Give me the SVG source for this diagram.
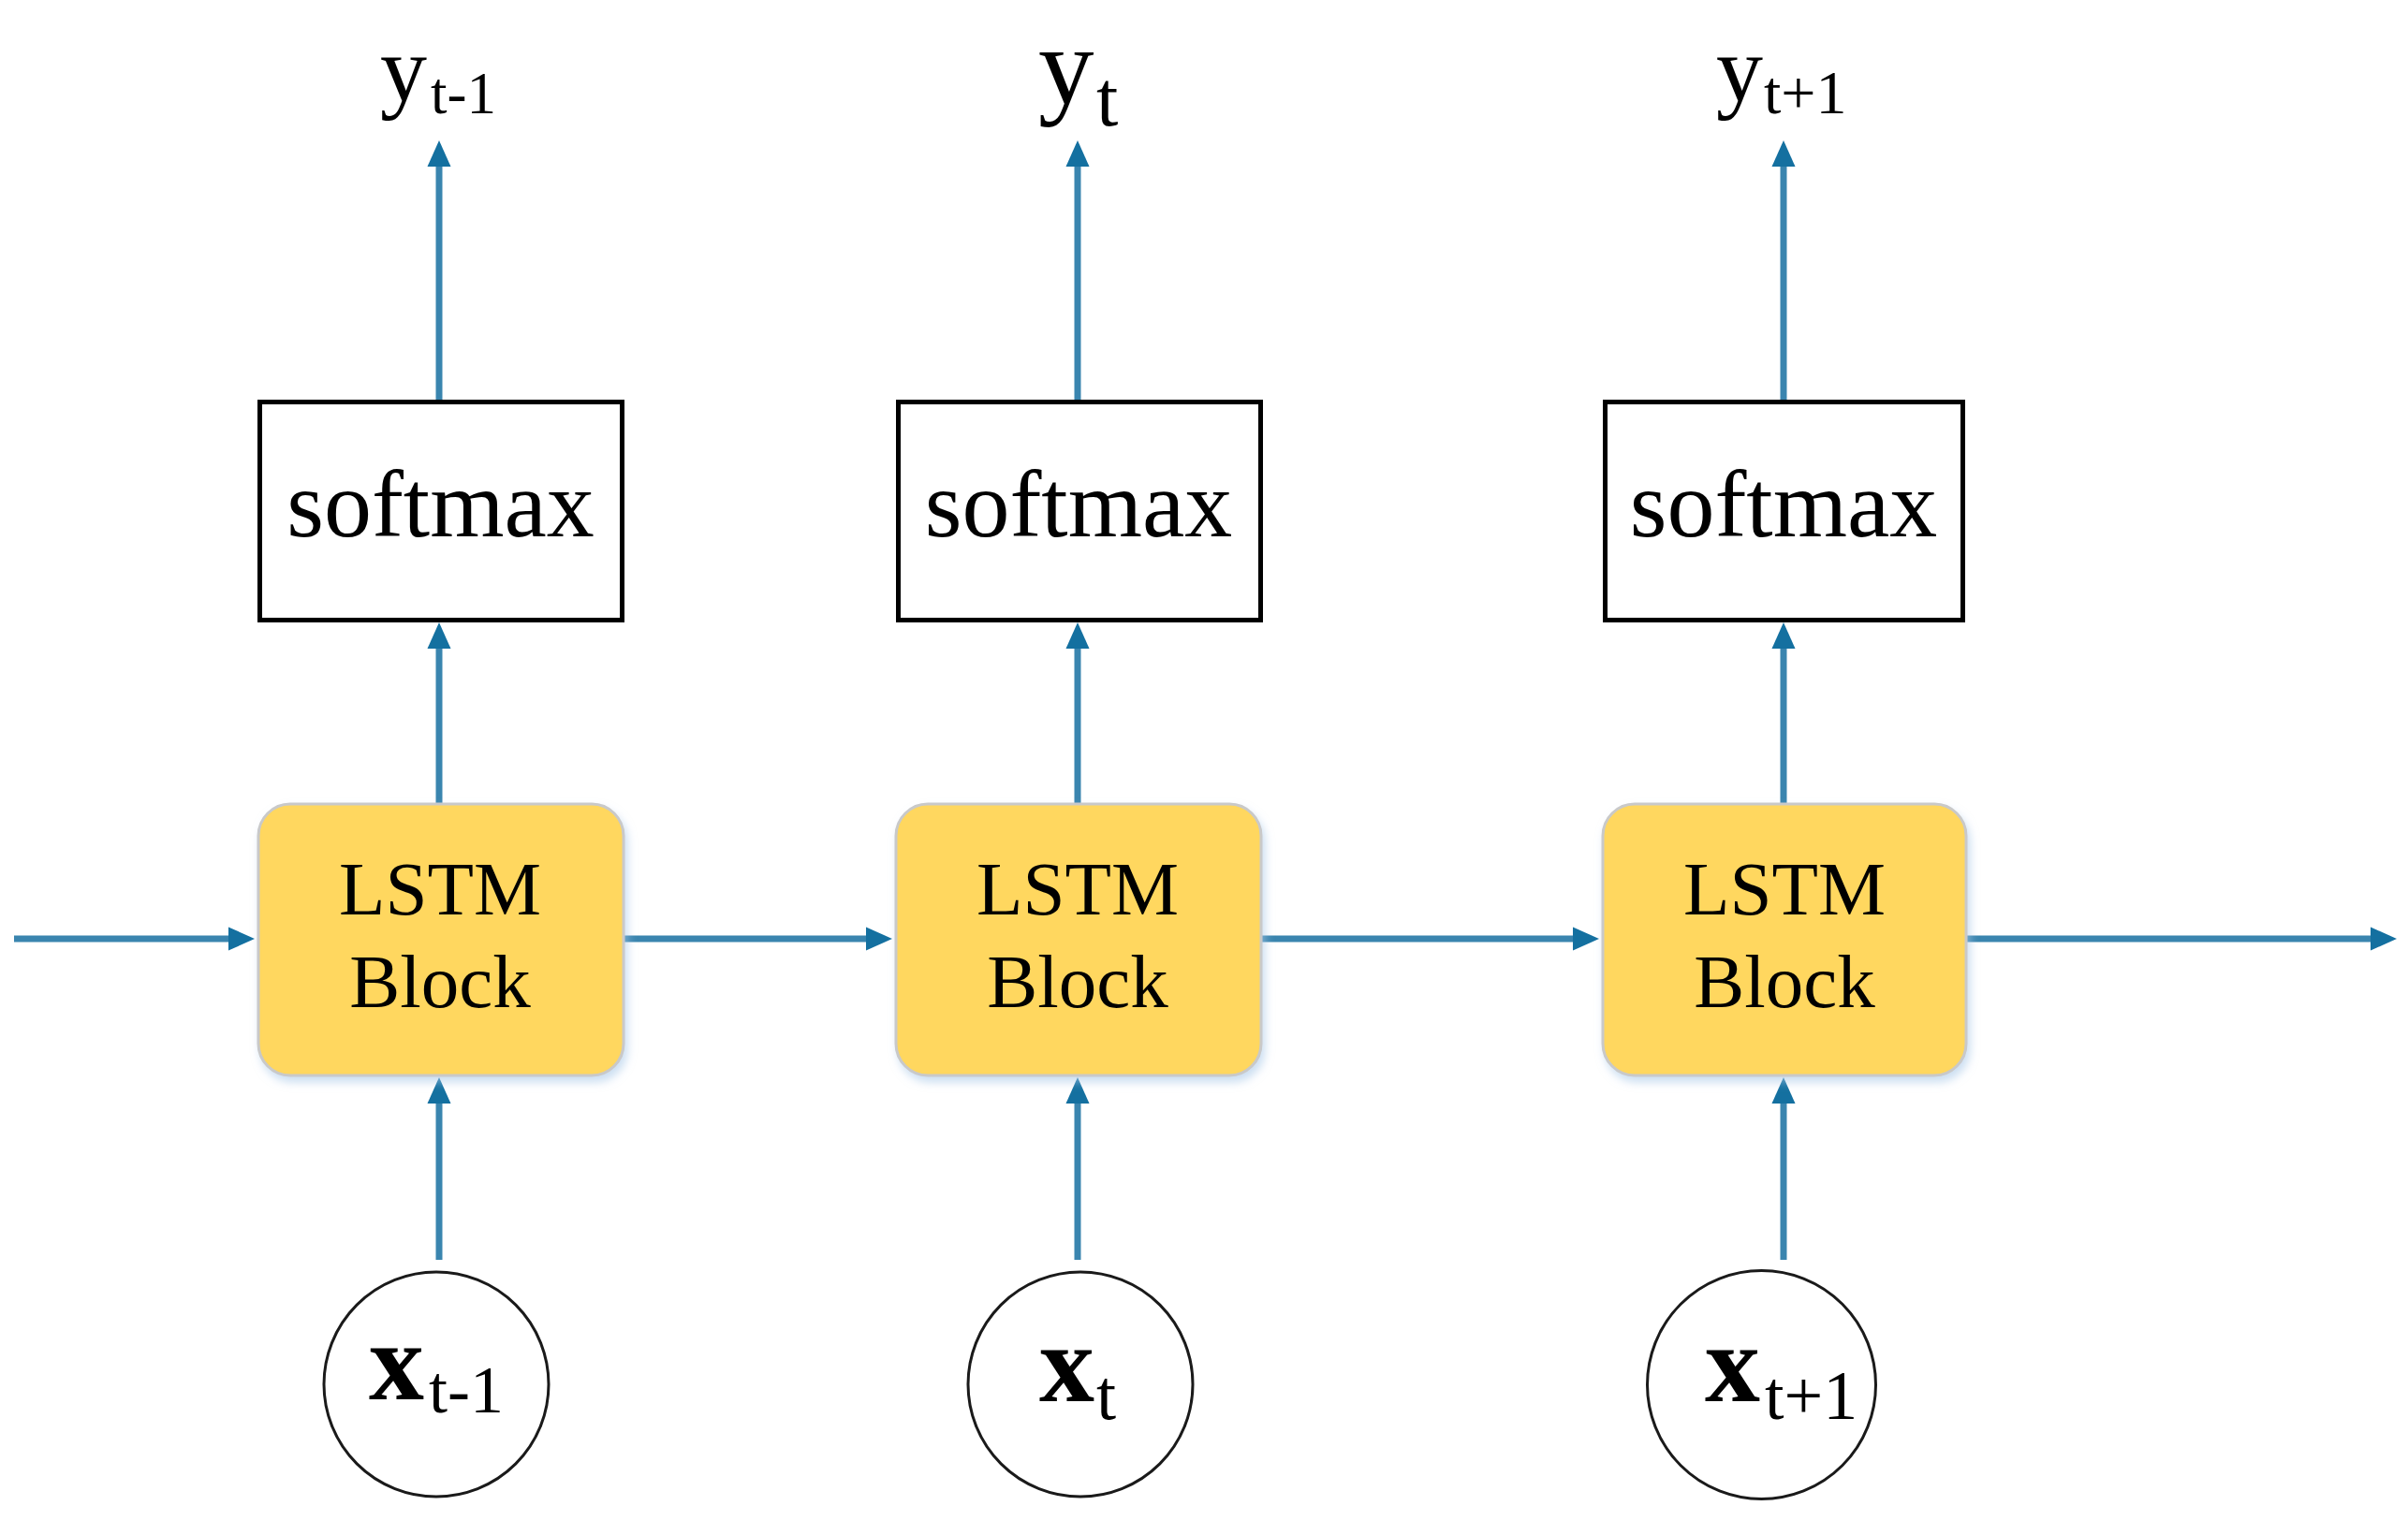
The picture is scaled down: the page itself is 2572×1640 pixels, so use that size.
<svg xmlns="http://www.w3.org/2000/svg" width="2572" height="1640" viewBox="0 0 2572 1640">
<style>
.conn{stroke:#3A85AF;stroke-width:7;fill:none;marker-end:url(#ah)}
.sm{fill:#fff;stroke:#000;stroke-width:5}
.lstm{fill:#FFD75E;stroke:#C9C9C9;stroke-width:3;filter:url(#sh)}
.inp{fill:#fff;stroke:#1a1a1a;stroke-width:3}
.t{font-family:"Liberation Serif","Times New Roman",serif;fill:#000}
.c{text-anchor:middle}
</style>
<defs>
<marker id="ah" markerUnits="userSpaceOnUse" markerWidth="30" markerHeight="26" viewBox="0 0 30 26" refX="8" refY="13" orient="auto">
<path d="M0,0.5 L28,13 L0,25.5 z" fill="#1470A0"/>
</marker>
<filter id="sh" x="-10%" y="-10%" width="125%" height="130%">
<feDropShadow dx="3" dy="6" stdDeviation="5" flood-color="#A9C9E8" flood-opacity="0.6"/>
</filter>
</defs>
<rect width="2572" height="1640" fill="#fff"/>

<g id="connectors">
<line class="conn" x1="15" y1="1003" x2="252" y2="1003"/>
<line class="conn" x1="666" y1="1003" x2="933" y2="1003"/>
<line class="conn" x1="1347" y1="1003" x2="1688" y2="1003"/>
<line class="conn" x1="2100" y1="1003" x2="2540" y2="1003"/>

<line class="conn" x1="469" y1="1346" x2="469" y2="1171"/>
<line class="conn" x1="1151" y1="1346" x2="1151" y2="1171"/>
<line class="conn" x1="1905" y1="1346" x2="1905" y2="1171"/>

<line class="conn" x1="469" y1="859" x2="469" y2="685"/>
<line class="conn" x1="1151" y1="859" x2="1151" y2="685"/>
<line class="conn" x1="1905" y1="859" x2="1905" y2="685"/>

<line class="conn" x1="469" y1="427" x2="469" y2="170"/>
<line class="conn" x1="1151" y1="427" x2="1151" y2="170"/>
<line class="conn" x1="1905" y1="427" x2="1905" y2="170"/>
</g>

<g id="y1"><text class="t"><tspan x="406" y="108" font-size="100">y</tspan><tspan x="460" y="121" font-size="63">t-1</tspan></text></g>
<g id="y2"><text class="t"><tspan x="1109" y="111" font-size="119">y</tspan><tspan x="1171" y="134" font-size="84">t</tspan></text></g>
<g id="y3"><text class="t"><tspan x="1833" y="108" font-size="100">y</tspan><tspan x="1884" y="121" font-size="66">t+1</tspan></text></g>

<g id="softmax1"><rect class="sm" x="277.5" y="429.5" width="387" height="233"/><text class="t c" x="470.5" y="573" font-size="102">softmax</text></g>
<g id="softmax2"><rect class="sm" x="959.5" y="429.5" width="387" height="233"/><text class="t c" x="1152" y="573" font-size="102">softmax</text></g>
<g id="softmax3"><rect class="sm" x="1714.5" y="429.5" width="382" height="233"/><text class="t c" x="1905" y="573" font-size="102">softmax</text></g>

<g id="lstm1"><rect class="lstm" x="276" y="859" width="390" height="290" rx="34"/><text class="t c" x="470" y="977" font-size="81">LSTM</text><text class="t c" x="470" y="1076" font-size="81">Block</text></g>
<g id="lstm2"><rect class="lstm" x="957" y="859" width="390" height="290" rx="34"/><text class="t c" x="1151" y="977" font-size="81">LSTM</text><text class="t c" x="1151" y="1076" font-size="81">Block</text></g>
<g id="lstm3"><rect class="lstm" x="1712" y="859" width="388" height="290" rx="34"/><text class="t c" x="1906" y="977" font-size="81">LSTM</text><text class="t c" x="1906" y="1076" font-size="81">Block</text></g>

<g id="x1"><circle class="inp" cx="466" cy="1479" r="120"/><text class="t"><tspan x="394" y="1495" font-size="118" font-weight="bold">x</tspan><tspan x="458" y="1509" font-size="72">t-1</tspan></text></g>
<g id="x2"><circle class="inp" cx="1154" cy="1479" r="120"/><text class="t"><tspan x="1110" y="1497" font-size="118" font-weight="bold">x</tspan><tspan x="1171" y="1516" font-size="76">t</tspan></text></g>
<g id="x3"><circle class="inp" cx="1881.5" cy="1479.5" r="122"/><text class="t"><tspan x="1821" y="1497" font-size="118" font-weight="bold">x</tspan><tspan x="1885" y="1516" font-size="74">t+1</tspan></text></g>
</svg>
